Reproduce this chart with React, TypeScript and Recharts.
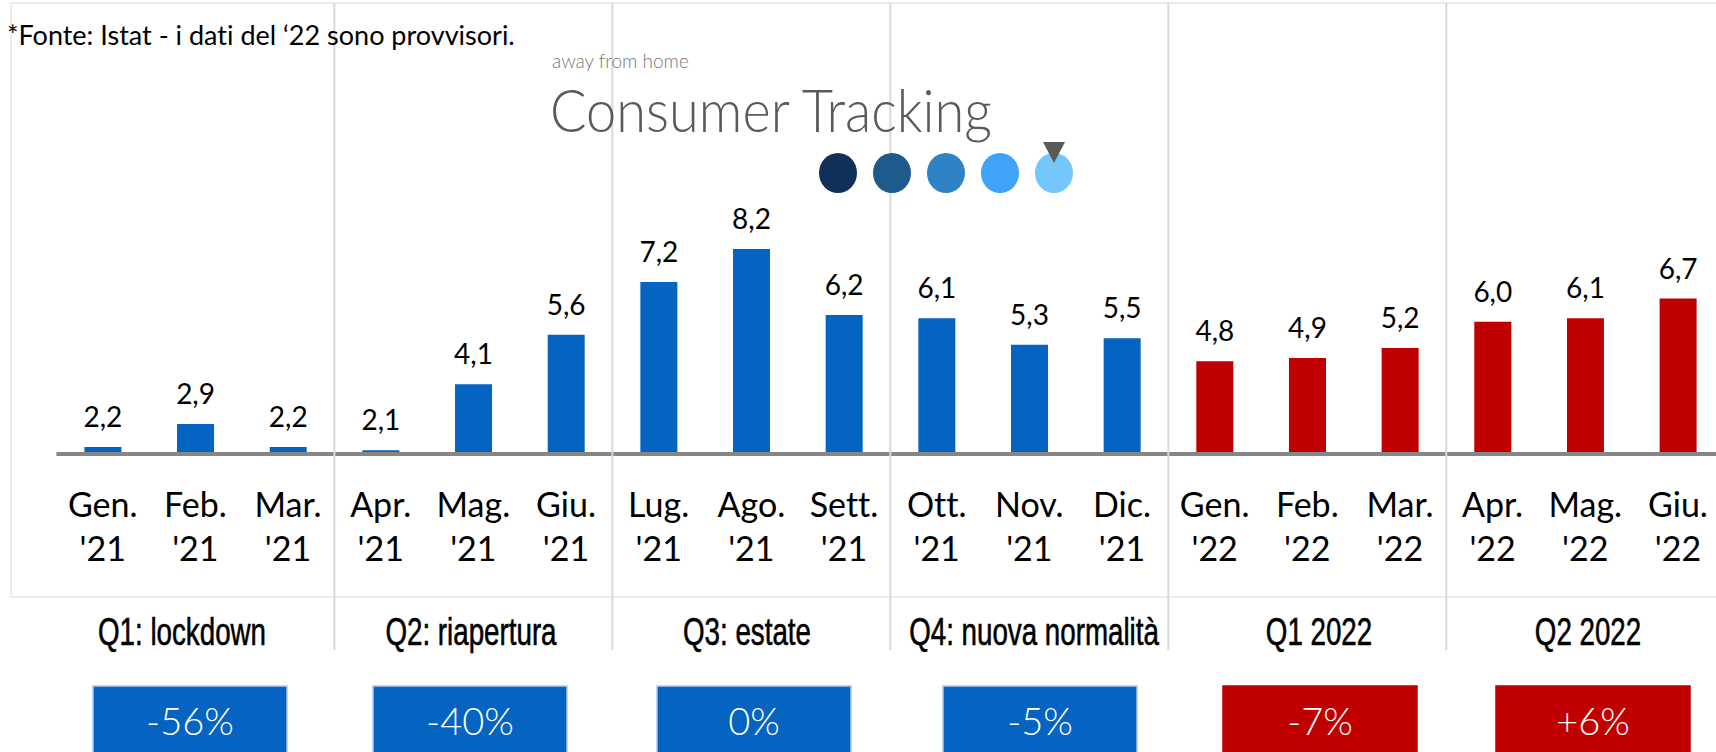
import React from 'react';
import { BarChart, Bar, XAxis, YAxis, Cell, LabelList } from 'recharts';

// ---------- data ----------
const months = ['Gen.', 'Feb.', 'Mar.', 'Apr.', 'Mag.', 'Giu.', 'Lug.', 'Ago.', 'Sett.', 'Ott.', 'Nov.', 'Dic.', 'Gen.', 'Feb.', 'Mar.', 'Apr.', 'Mag.', 'Giu.'];
const years = ["'21", "'21", "'21", "'21", "'21", "'21", "'21", "'21", "'21", "'21", "'21", "'21", "'22", "'22", "'22", "'22", "'22", "'22"];
const values = [2.2, 2.9, 2.2, 2.1, 4.1, 5.6, 7.2, 8.2, 6.2, 6.1, 5.3, 5.5, 4.8, 4.9, 5.2, 6.0, 6.1, 6.7];
const quarterLabels = ['Q1: lockdown', 'Q2: riapertura', 'Q3: estate', 'Q4: nuova normalità', 'Q1 2022', 'Q2 2022'];
const quarterChanges = ['-56%', '-40%', '0%', '-5%', '-7%', '+6%'];
const sourceNote = '*Fonte: Istat - i dati del \u201822 sono provvisori.';
const logoSmall = 'away from home';
const logoBig = 'Consumer Tracking';

// ---------- style / layout ----------
const BLUE = '#0563c1';
const RED = '#c00000';
const FONT = "Lato, 'Noto Sans', sans-serif";
const NARROW = "'Liberation Sans', Arial, sans-serif";
const colorFor = (year: string) => (year === "'22" ? RED : BLUE);

const W = 1716;
const H = 752;
const CHART_W = 1740;
const PLOT_LEFT = 56.4;
const BAND = 92.66;
const PLOT_RIGHT = PLOT_LEFT + BAND * months.length;
const PLOT_TOP = 188;
const PLOT_BOTTOM = 452;
const XAXIS_H = 100;

const boxCenters = [190, 470, 754, 1040, 1320, 1593];
const labelCenters = [182, 471, 747, 1034, 1319, 1588];
const logoDots = ['#10305a', '#1f5a8e', '#2f82c4', '#3fa3f7', '#74c6fb'];

const data = months.map((m, i) => ({ key: `${m} ${years[i]} #${i}`, month: m, year: years[i], value: values[i] }));

const fmt = (v: any) => Number(v).toFixed(1).replace('.', ',');
const noLig = { fontVariantLigatures: 'none' as const };

const MonthTick = (props: any) => {
  const { x, y, payload } = props;
  const i = props.index ?? payload?.index ?? 0;
  return (
    <g>
      <text x={x} y={y + 65} textAnchor="middle" fontFamily={FONT} fontSize={34} fill="#000" style={noLig}>{months[i]}</text>
      <text x={x} y={y + 109} textAnchor="middle" fontFamily={FONT} fontSize={34} fill="#000" style={noLig}>{years[i]}</text>
    </g>
  );
};

export default function App() {
  const separators = [1, 2, 3, 4, 5].map((k) => PLOT_LEFT + 3 * k * BAND);
  return (
    <div style={{ position: 'relative', width: W, height: H, overflow: 'hidden', background: '#fff' }}>
      <style>{`html,body{margin:0;padding:0;overflow:hidden;background:#fff}`}</style>
      <div style={{ position: 'absolute', left: 0, top: 0 }}>
        <BarChart
          width={CHART_W}
          height={H}
          data={data}
          margin={{ top: PLOT_TOP, left: PLOT_LEFT, right: CHART_W - PLOT_RIGHT, bottom: H - PLOT_BOTTOM - XAXIS_H }}
        >
          <YAxis type="number" domain={[2.05, 10.05]} allowDataOverflow hide />
          <XAxis
            dataKey="key"
            interval={0}
            height={XAXIS_H}
            tickLine={false}
            tickSize={0}
            tickMargin={0}
            axisLine={{ stroke: '#868686', strokeWidth: 4, transform: 'translate(0,2)' }}
            tick={<MonthTick />}
          />
          <Bar dataKey="value" barSize={37} isAnimationActive={false}>
            {data.map((d, i) => (
              <Cell key={i} fill={colorFor(d.year)} />
            ))}
            <LabelList dataKey="value" position="top" offset={20} formatter={fmt} fill="#000" fontSize={28} fontFamily={FONT} />
          </Bar>
        </BarChart>
      </div>
      <svg width={W} height={H} style={{ position: 'absolute', left: 0, top: 0, pointerEvents: 'none' }}>
        {/* frame */}
        <line x1={11} y1={3} x2={W} y2={3} stroke="#ececec" strokeWidth={2} />
        <line x1={11} y1={3} x2={11} y2={597} stroke="#ececec" strokeWidth={2} />
        <line x1={11} y1={597} x2={W} y2={597} stroke="#ececec" strokeWidth={2} />
        {separators.map((x, i) => (
          <line key={i} x1={x} y1={3} x2={x} y2={650} stroke="#d9d9d9" strokeWidth={2} />
        ))}
        {/* source note */}
        <text x={7} y={45} fontFamily={FONT} fontSize={27} fill="#000" style={noLig}>{sourceNote}</text>
        {/* logo */}
        <text x={552} y={68} fontFamily={FONT} fontWeight={300} fontSize={19} fill="#777">{logoSmall}</text>
        <text x={550} y={132} fontFamily={FONT} fontWeight={300} fontSize={60} fill="#5a5a5a" textLength={442} lengthAdjust="spacingAndGlyphs">{logoBig}</text>
        {logoDots.map((c, i) => (
          <ellipse key={i} cx={838 + i * 54} cy={173} rx={19} ry={20} fill={c} />
        ))}
        <polygon points="1043,142 1065,142 1054,163" fill="#595959" />
        {/* quarter labels */}
        {quarterLabels.map((q, i) => (
          <text key={i} transform={`translate(${labelCenters[i]},645) scale(0.73,1)`} x={0} y={0} textAnchor="middle" fontFamily={NARROW} fontSize={38} fill="#000" stroke="#000" strokeWidth={0.6}>{q}</text>
        ))}
        {/* quarter change boxes */}
        {quarterChanges.map((c, i) => {
          const col = colorFor(years[i * 3]);
          return (
            <g key={i}>
              <rect x={boxCenters[i] - 97} y={686} width={194} height={80} fill={col} stroke={col === BLUE ? '#b4c7e7' : col} strokeWidth={1.5} />
              <text x={boxCenters[i]} y={735} textAnchor="middle" fontFamily={FONT} fontWeight={300} fontSize={38} fill="#fff">{c}</text>
            </g>
          );
        })}
      </svg>
    </div>
  );
}
